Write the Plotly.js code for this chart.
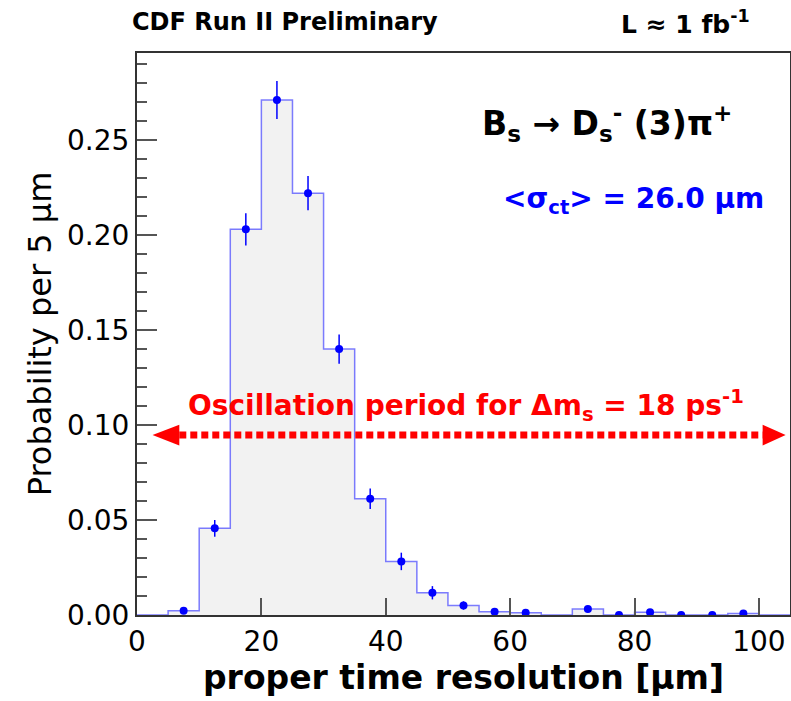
<!DOCTYPE html>
<html>
<head>
<meta charset="utf-8">
<script src="https://cdn.plot.ly/plotly-3.0.1.min.js"></script>
<style>html,body{margin:0;padding:0;background:#fff;}#chart{width:791px;height:701px;}</style>
</head>
<body>
<div id="chart"></div>
<script>
// ---- data ----
const binLowEdges = [0, 5, 10, 15, 20, 25, 30, 35, 40, 45, 50, 55, 60, 65, 70, 75, 80, 85, 90, 95, 100];
const binWidth = 5;
const binValues = [0, 0.0022, 0.0456, 0.203, 0.271, 0.222, 0.140, 0.0612, 0.0282, 0.0117, 0.0050, 0.0017, 0.0012, 0, 0.0031, 0, 0.0014, 0, 0, 0.0008, 0];
const binErrors = [0, 0.0012, 0.0044, 0.0085, 0.0100, 0.0090, 0.0077, 0.0054, 0.0046, 0.0035, 0.0022, 0.0012, 0.0010, 0, 0.0016, 0, 0.0010, 0, 0, 0.0008, 0];
const binHasMarker = [false, true, true, true, true, true, true, true, true, true, true, true, true, false, true, true, true, true, true, true, false];
const xTickLabels = ["0", "20", "40", "60", "80", "100"];
const xTickValues = [0, 20, 40, 60, 80, 100];

// arrow annotation geometry (data units)
const arrowY = 0.0947;
const arrowTipLeft = 2.5, arrowBaseLeft = 6.8;
const arrowTipRight = 104.3, arrowBaseRight = 100.6;
const arrowHalfHeight = 0.0055;

// ---- build traces ----
const histX = binLowEdges.concat([binLowEdges[binLowEdges.length - 1] + binWidth]);
const histY = binValues.concat([binValues[binValues.length - 1]]);

const ptX = [], ptY = [], ptE = [];
binLowEdges.forEach((e, i) => {
  if (binHasMarker[i]) { ptX.push(e + binWidth / 2); ptY.push(binValues[i]); ptE.push(binErrors[i]); }
});

const font = "DejaVu Sans";
const traces = [
  {
    x: histX, y: histY, type: 'scatter', mode: 'lines',
    line: {shape: 'hv', color: 'rgba(70,70,255,0.7)', width: 1.5},
    fill: 'tozeroy', fillcolor: '#f2f2f2', hoverinfo: 'skip', showlegend: false
  },
  {
    x: ptX, y: ptY, type: 'scatter', mode: 'markers',
    marker: {color: '#0000ff', size: 8},
    error_y: {type: 'data', array: ptE, visible: true, color: '#0000ff', thickness: 1.5, width: 0},
    showlegend: false
  }
];

const layout = {
  width: 791, height: 701,
  margin: {l: 137, r: 1, t: 53, b: 86},
  paper_bgcolor: '#fff', plot_bgcolor: '#fff',
  showlegend: false,
  xaxis: {
    range: [0, 105], tickvals: xTickValues, ticktext: xTickLabels,
    ticks: 'inside', ticklen: 17, tickwidth: 2, tickcolor: '#555',
    showline: true, linecolor: '#333', linewidth: 2, mirror: true,
    showgrid: false, zeroline: false,
    tickfont: {family: font, size: 28, color: '#000'},
    title: {text: 'proper time resolution [µm]', font: {family: font, size: 33, color: '#000', weight: 'bold'}, standoff: 2}
  },
  yaxis: {
    range: [0, 0.2958], dtick: 0.05, tick0: 0, tickformat: '.2f',
    ticks: 'inside', ticklen: 20, tickwidth: 2, tickcolor: '#555',
    minor: {dtick: 0.01, ticks: 'inside', ticklen: 10, tickwidth: 1.5, tickcolor: '#555'},
    showline: true, linecolor: '#333', linewidth: 2, mirror: true,
    showgrid: false, zeroline: false,
    tickfont: {family: font, size: 28, color: '#000'},
    title: {text: 'Probability per 5 µm', font: {family: font, size: 32, color: '#000'}, standoff: 6}
  },
  shapes: [
    {type: 'line', xref: 'x', yref: 'y', x0: arrowBaseLeft, x1: arrowBaseRight, y0: arrowY, y1: arrowY,
     line: {color: '#ff0000', width: 7, dash: '7px,4px'}},
    {type: 'path', xref: 'x', yref: 'y',
     path: `M ${arrowTipLeft},${arrowY} L ${arrowBaseLeft},${arrowY + arrowHalfHeight} L ${arrowBaseLeft},${arrowY - arrowHalfHeight} Z`,
     fillcolor: '#ff0000', line: {width: 0}},
    {type: 'path', xref: 'x', yref: 'y',
     path: `M ${arrowTipRight},${arrowY} L ${arrowBaseRight},${arrowY + arrowHalfHeight} L ${arrowBaseRight},${arrowY - arrowHalfHeight} Z`,
     fillcolor: '#ff0000', line: {width: 0}}
  ],
  annotations: [
    {text: '<b>CDF Run II Preliminary</b>', xref: 'paper', yref: 'paper', x: -0.0107, y: 1.055,
     xanchor: 'left', yanchor: 'middle', showarrow: false, font: {family: font, size: 24, color: '#000'}},
    {text: '<b>L ≈ 1 fb<sup>-1</sup></b>', xref: 'paper', yref: 'paper', x: 0.9418, y: 1.055,
     xanchor: 'right', yanchor: 'middle', showarrow: false, font: {family: font, size: 25, color: '#000'}},
    {text: '<b>B<sub>s</sub> → D<sub>s</sub><sup>-</sup> (3)π<sup>+</sup></b>', xref: 'paper', yref: 'paper', x: 0.526, y: 0.874,
     xanchor: 'left', yanchor: 'middle', showarrow: false, font: {family: font, size: 33, color: '#000'}},
    {text: '<b>&lt;σ<sub>ct</sub>&gt; = 26.0 µm</b>', xref: 'paper', yref: 'paper', x: 0.5575, y: 0.738,
     xanchor: 'left', yanchor: 'middle', showarrow: false, font: {family: font, size: 28, color: '#0000ff'}},
    {text: '<b>Oscillation period for Δm<sub>s</sub> = 18 ps<sup>-1</sup></b>', xref: 'paper', yref: 'paper', x: 0.5040, y: 0.373,
     xanchor: 'center', yanchor: 'middle', showarrow: false, font: {family: font, size: 28, color: '#ff0000'}}
  ]
};

Plotly.newPlot('chart', traces, layout, {displayModeBar: false, staticPlot: true});
</script>
</body>
</html>
